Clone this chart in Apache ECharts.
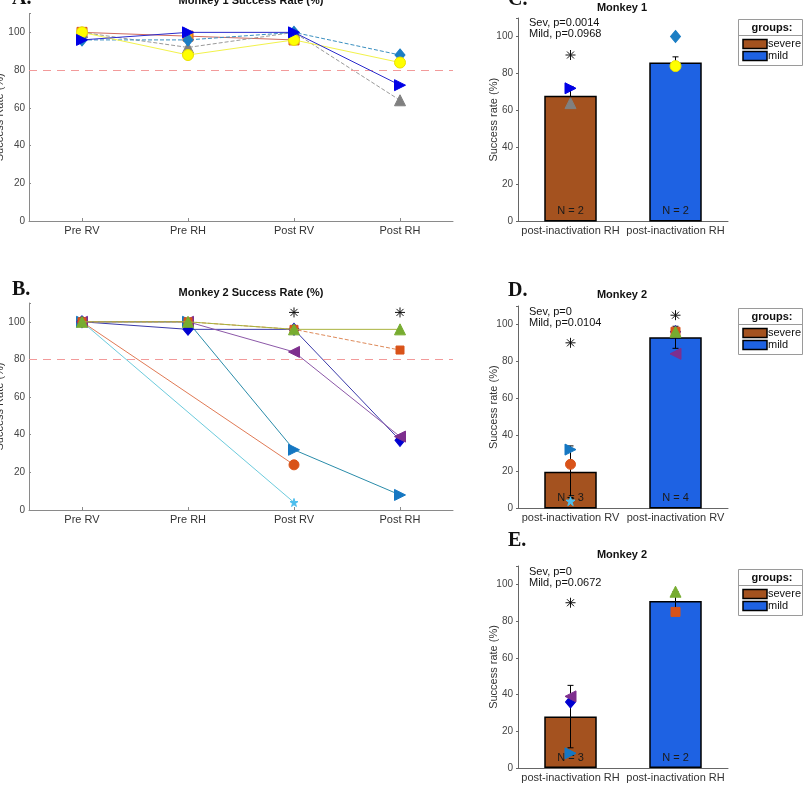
<!DOCTYPE html>
<html><head><meta charset="utf-8">
<script src="https://cdn.jsdelivr.net/npm/echarts@6/dist/echarts.min.js"></script>
<style>html,body{margin:0;padding:0;background:#fff}#c{width:804px;height:797px}</style>
</head><body><div id="c"></div>
<script>
// ---------------- data ----------------
const stages = ['Pre RV', 'Pre RH', 'Post RV', 'Post RH'];
const yTicks = [0, 20, 40, 60, 80, 100];
const threshold = 80;

// Monkey 1 (panel A)
const m1Square  = [100, 98, 96, null];
const m1Gray    = [100, 92, 100, 64];
const m1Diamond = [96, 96, 100, 88];
const m1Circle  = [100, 88, 96, 84];
const m1TriR    = [96, 100, 100, 72];

// Monkey 2 (panel B)
const m2Star    = [100, null, 4, null];
const m2Circle  = [100, null, 24, null];
const m2TriR    = [100, 100, 32, 8];
const m2Diamond = [100, 96, 96, 37];
const m2TriL    = [100, 100, 84, 39];
const m2Square  = [100, 100, 96, 85];
const m2TriUp   = [100, 100, 96, 96];
const m2Sig     = [null, null, 105, 105];

// bar panels
const groupNames = ['severe', 'mild'];
const cCats = ['post-inactivation RH', 'post-inactivation RH'];
const cMeans = [68, 86];
const cErr = [5, 3];
const cN = ['N = 2', 'N = 2'];
const cTriR = [72, null];
const cGray = [64, null];
const cDiamond = [null, 100];
const cCircle = [null, 84];
const cSig = [90, null];
const cText = ['Sev, p=0.0014', 'Mild, p=0.0968'];

const dCats = ['post-inactivation RV', 'post-inactivation RV'];
const dMeans = [20, 93];
const dErr = [14, 6];
const dN = ['N = 3', 'N = 4'];
const dTriR = [32, null];
const dCircle = [24, null];
const dStar = [4, null];
const dDiamond = [null, 96];
const dSquare = [null, 96];
const dTriUp = [null, 96];
const dTriL = [null, 84];
const dSig = [90, 105];
const dText = ['Sev, p=0', 'Mild, p=0.0104'];

const eCats = ['post-inactivation RH', 'post-inactivation RH'];
const eMeans = [28, 91];
const eErr = [17, 5];
const eN = ['N = 3', 'N = 2'];
const eTriR = [8, null];
const eDiamond = [36, null];
const eTriL = [39, null];
const eSquare = [null, 85];
const eTriUp = [null, 96];
const eSig = [90, null];
const eText = ['Sev, p=0', 'Mild, p=0.0672'];

// ---------------- styling ----------------
const FONT = '"Liberation Sans", Arial, Helvetica, sans-serif';
const SERIF = '"Liberation Serif", "Times New Roman", serif';
const barColors = ['#A4521F', '#1E62E3'];
const SYM = {
  triR: 'path://M0,0L10,5L0,10Z',
  triL: 'path://M10,0L0,5L10,10Z',
  star: 'path://M50,0L61,35L98,35L68,57L79,91L50,70L21,91L32,57L2,35L39,35Z',
  ast: 'path://M50,0L50,100M0,50L100,50M15,15L85,85M15,85L85,15'
};

const grids = [
  {left: 29, top: 13.5, width: 424, height: 207.5},
  {left: 29, top: 303, width: 424, height: 207},
  {left: 518, top: 18, width: 210, height: 203.5},
  {left: 518, top: 306, width: 210, height: 202.5},
  {left: 518, top: 566, width: 210, height: 202}
];

function nz(arr) { return arr.map(v => v === null ? '-' : v); }

const xAxes = [], yAxes = [];
[0, 1].forEach(g => {
  xAxes.push({
    type: 'category', gridIndex: g, data: stages, boundaryGap: true,
    axisLine: {lineStyle: {color: '#8a8a8a', width: 1}},
    axisTick: {show: true, inside: true, alignWithLabel: true, length: 3, lineStyle: {color: '#8a8a8a'}},
    axisLabel: {fontFamily: FONT, fontSize: 11, color: '#333', margin: 4, interval: 0}
  });
  yAxes.push({
    type: 'value', gridIndex: g, min: 0, max: 110, interval: 20,
    name: 'Success Rate (%)', nameLocation: 'middle', nameGap: 24, nameMoveOverlap: false,
    nameTextStyle: {fontFamily: FONT, fontSize: 11, color: '#333'},
    axisLine: {show: true, lineStyle: {color: '#8a8a8a', width: 1}},
    axisTick: {show: true, inside: true, length: 2, lineStyle: {color: '#8a8a8a'}},
    splitLine: {show: false},
    axisLabel: {fontFamily: FONT, fontSize: 10, color: '#444', margin: 4,
      formatter: v => yTicks.includes(v) ? String(v) : ''}
  });
});
[[2, cCats], [3, dCats], [4, eCats]].forEach(([g, cats]) => {
  xAxes.push({
    type: 'category', gridIndex: g, data: cats, boundaryGap: true,
    axisLine: {lineStyle: {color: '#666', width: 1}},
    axisTick: {show: false},
    axisLabel: {fontFamily: FONT, fontSize: 11, color: '#333', margin: 4, interval: 0}
  });
  yAxes.push({
    type: 'value', gridIndex: g, min: 0, max: 110, interval: 20,
    name: 'Success rate (%)', nameLocation: 'middle', nameGap: 19, nameMoveOverlap: false,
    nameTextStyle: {fontFamily: FONT, fontSize: 11, color: '#333'},
    axisLine: {show: true, lineStyle: {color: '#666', width: 1}},
    axisTick: {show: true, inside: false, length: 2, lineStyle: {color: '#666'}},
    splitLine: {show: false},
    axisLabel: {fontFamily: FONT, fontSize: 10, color: '#444', margin: 5,
      formatter: v => yTicks.includes(v) ? String(v) : ''}
  });
});

const series = [];
function lineS(g, data, sym, size, fill, border, lineColor, dashed, z) {
  series.push({
    type: 'line', xAxisIndex: g, yAxisIndex: g, data: data, connectNulls: true,
    symbol: sym, symbolSize: size, showSymbol: true, z: z || 3,
    lineStyle: {color: lineColor, width: 1, type: dashed ? [4, 2] : 'solid'},
    itemStyle: {color: fill, borderColor: border, borderWidth: 1},
    emphasis: {disabled: true}, animation: false
  });
}
function dotS(g, data, sym, size, fill, border, z) {
  series.push({
    type: 'scatter', xAxisIndex: g, yAxisIndex: g, data: nz(data),
    symbol: sym, symbolSize: size, z: z || 6,
    itemStyle: {color: fill, borderColor: border, borderWidth: 1, opacity: 1},
    emphasis: {disabled: true}, animation: false
  });
}
function sigS(g, data) {
  series.push({
    type: 'scatter', xAxisIndex: g, yAxisIndex: g, data: nz(data),
    symbol: SYM.ast, symbolSize: 10, z: 7,
    itemStyle: {color: 'rgba(0,0,0,0)', borderColor: '#111', borderWidth: 1, opacity: 1},
    emphasis: {disabled: true}, animation: false
  });
}
function barS(g, means, labels) {
  series.push({
    type: 'bar', xAxisIndex: g, yAxisIndex: g, barWidth: '50%', z: 2,
    data: means.map((v, i) => ({value: v, itemStyle: {color: barColors[i]}})),
    itemStyle: {borderColor: '#000', borderWidth: 1.5},
    label: {show: true, position: 'insideBottom', distance: 5,
      formatter: p => labels[p.dataIndex], fontFamily: FONT, fontSize: 11, color: '#1a1a1a'},
    emphasis: {disabled: true}, animation: false
  });
}
function errS(g, means, errs) {
  series.push({
    type: 'custom', xAxisIndex: g, yAxisIndex: g, z: 4,
    data: means.map((m, i) => [i, m - errs[i], m + errs[i]]),
    renderItem: function (params, api) {
      const x = api.value(0);
      const lo = api.coord([x, api.value(1)]);
      const hi = api.coord([x, api.value(2)]);
      const w = 3, st = {stroke: '#000', lineWidth: 1};
      return {type: 'group', children: [
        {type: 'line', shape: {x1: lo[0], y1: lo[1], x2: hi[0], y2: hi[1]}, style: st},
        {type: 'line', shape: {x1: lo[0] - w, y1: lo[1], x2: lo[0] + w, y2: lo[1]}, style: st},
        {type: 'line', shape: {x1: hi[0] - w, y1: hi[1], x2: hi[0] + w, y2: hi[1]}, style: st}
      ]};
    },
    animation: false
  });
}
function refLine(g) {
  series.push({
    type: 'line', xAxisIndex: g, yAxisIndex: g, data: [], z: 1,
    markLine: {
      silent: true, symbol: 'none', label: {show: false},
      lineStyle: {color: '#F29A9A', type: [8, 6], width: 1.2, opacity: 1},
      emphasis: {disabled: true},
      data: [{yAxis: threshold}], animation: false
    },
    animation: false
  });
}

// Panel A
refLine(0);
lineS(0, m1Square, 'rect', 10, '#F5A31B', '#D95319', '#CF6A5E', false, 3);
lineS(0, m1Gray, 'triangle', 11, '#808080', '#808080', '#9a9a9a', true, 3);
lineS(0, m1Diamond, 'diamond', [10, 12], '#1C7EC4', '#1C7EC4', '#3A8FC0', true, 3);
lineS(0, m1Circle, 'circle', 11, '#FFFF00', '#EAE000', '#F2F24A', false, 4);
lineS(0, m1TriR, SYM.triR, 11, '#0000E6', '#0000E6', '#2A2ACC', false, 5);

// Panel B
refLine(1);
lineS(1, m2Star, SYM.star, 8, '#4DBEEE', '#4DBEEE', '#6CCBDD', false, 3);
lineS(1, m2Circle, 'circle', 10, '#D95319', '#D95319', '#E07A55', false, 3);
lineS(1, m2TriR, SYM.triR, 11, '#1577C2', '#1577C2', '#2A8CAA', false, 3);
lineS(1, m2Diamond, 'diamond', [10, 12], '#0000D0', '#0000D0', '#3A3AAA', false, 4);
lineS(1, m2TriL, SYM.triL, 11, '#7E2F8E', '#7E2F8E', '#8C58A8', false, 4);
lineS(1, m2Square, 'rect', 8, '#D95319', '#D95319', '#DE8A5A', true, 4);
lineS(1, m2TriUp, 'triangle', 11, '#77AC30', '#77AC30', '#A9B33E', false, 5);
sigS(1, m2Sig);

// Panel C
barS(2, cMeans, cN);
errS(2, cMeans, cErr);
dotS(2, cGray, 'triangle', 11, '#808080', '#808080');
dotS(2, cTriR, SYM.triR, 11, '#0000E6', '#0000E6');
dotS(2, cDiamond, 'diamond', [10, 12], '#1C7EC4', '#1C7EC4');
dotS(2, cCircle, 'circle', 11, '#FFFF00', '#EAE000');
sigS(2, cSig);

// Panel D
barS(3, dMeans, dN);
errS(3, dMeans, dErr);
dotS(3, dTriR, SYM.triR, 11, '#1577C2', '#1577C2');
dotS(3, dCircle, 'circle', 10, '#D95319', '#D95319');
dotS(3, dStar, SYM.star, 9, '#4DBEEE', '#4DBEEE');
dotS(3, dDiamond, 'diamond', [10, 12], '#0000D0', '#0000D0');
dotS(3, dSquare, 'rect', 9, '#D95319', '#D95319');
dotS(3, dTriL, SYM.triL, 11, '#7E2F8E', '#7E2F8E');
dotS(3, dTriUp, 'triangle', 11, '#77AC30', '#77AC30');
sigS(3, dSig);

// Panel E
barS(4, eMeans, eN);
errS(4, eMeans, eErr);
dotS(4, eTriR, SYM.triR, 11, '#1577C2', '#1577C2');
dotS(4, eDiamond, 'diamond', [10, 12], '#0000D0', '#0000D0');
dotS(4, eTriL, SYM.triL, 11, '#7E2F8E', '#7E2F8E');
dotS(4, eSquare, 'rect', 9, '#D95319', '#D95319');
dotS(4, eTriUp, 'triangle', 11, '#77AC30', '#77AC30');
sigS(4, eSig);

// ---------------- text & legends ----------------
const graphics = [];
function txt(x, y, s, opt) {
  graphics.push({type: 'text', x: x, y: y, silent: true, style: Object.assign({
    text: s, fontFamily: FONT, fontSize: 11, fill: '#111',
    textAlign: 'left', textVerticalAlign: 'middle'}, opt || {})});
}
// panel letters
txt(12, -1, 'A.', {fontFamily: SERIF, fontSize: 20, fontWeight: 'bold'});
txt(12, 290, 'B.', {fontFamily: SERIF, fontSize: 20, fontWeight: 'bold'});
txt(508, 0, 'C.', {fontFamily: SERIF, fontSize: 20, fontWeight: 'bold'});
txt(508, 291, 'D.', {fontFamily: SERIF, fontSize: 20, fontWeight: 'bold'});
txt(508, 541, 'E.', {fontFamily: SERIF, fontSize: 20, fontWeight: 'bold'});
// titles
txt(251, 1, 'Monkey 1 Success Rate (%)', {fontWeight: 'bold', textAlign: 'center'});
txt(251, 292.5, 'Monkey 2 Success Rate (%)', {fontWeight: 'bold', textAlign: 'center'});
txt(622, 8, 'Monkey 1', {fontWeight: 'bold', textAlign: 'center'});
txt(622, 295, 'Monkey 2', {fontWeight: 'bold', textAlign: 'center'});
txt(622, 555, 'Monkey 2', {fontWeight: 'bold', textAlign: 'center'});
// p-values
[[cText, 22.5], [dText, 311.5], [eText, 571.5]].forEach(([t, y]) => {
  txt(529, y, t[0]);
  txt(529, y + 11, t[1]);
});
// legends
function legendBox(top) {
  graphics.push({type: 'rect', silent: true, shape: {x: 738.5, y: top + 0.5, width: 64, height: 46},
    style: {fill: '#fff', stroke: '#9a9a9a', lineWidth: 1}});
  graphics.push({type: 'line', silent: true, shape: {x1: 738.5, y1: top + 16.5, x2: 802.5, y2: top + 16.5},
    style: {stroke: '#9a9a9a', lineWidth: 1}});
  txt(772, top + 8.5, 'groups:', {fontWeight: 'bold', textAlign: 'center'});
  groupNames.forEach((n, i) => {
    const y = top + 20.5 + i * 12;
    graphics.push({type: 'rect', silent: true, shape: {x: 743, y: y, width: 24, height: 9},
      style: {fill: barColors[i], stroke: '#000', lineWidth: 1.5}});
    txt(768, y + 4.5, n, {fontSize: 11});
  });
}
legendBox(19);
legendBox(308);
legendBox(569);

const chart = echarts.init(document.getElementById('c'), null, {renderer: 'canvas', width: 804, height: 797});
chart.setOption({
  backgroundColor: '#ffffff',
  animation: false,
  textStyle: {fontFamily: FONT},
  grid: grids.map(g => Object.assign({containLabel: false, outerBoundsMode: 'none'}, g)),
  xAxis: xAxes,
  yAxis: yAxes,
  series: series,
  graphic: {elements: graphics}
});
</script>
</body></html>
